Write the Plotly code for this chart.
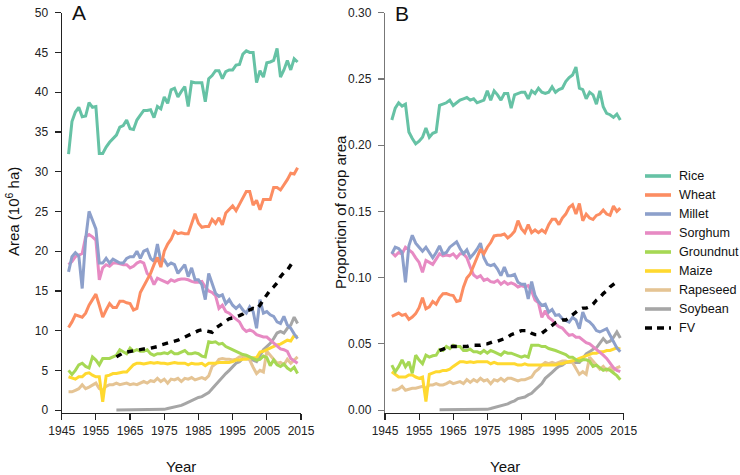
import plotly.graph_objects as go

YEARS = list(range(1947, 2015))
YEARS_SOY = list(range(1961, 2015))
YEARS_FV = list(range(1961, 2014))

# ---------- Panel A: area (10^6 ha) ----------
RICE_A = [32.2, 36.3, 37.5, 38.1, 36.9, 37.0, 38.7, 38.1, 38.2, 32.3,
          32.3, 33.1, 33.7, 34.2, 34.6, 35.6, 35.8, 36.5, 35.4, 35.3,
          36.5, 37.1, 37.7, 37.7, 37.8, 36.8, 38.2, 37.9, 39.4, 38.6,
          40.3, 40.5, 39.4, 40.1, 40.7, 38.2, 41.3, 41.2, 41.2, 41.2,
          38.8, 41.7, 42.1, 42.7, 42.7, 41.7, 42.6, 42.8, 42.8, 43.4,
          43.5, 44.8, 45.2, 45.0, 45.0, 41.2, 42.7, 41.9, 43.7, 43.8,
          44.0, 45.5, 41.9, 42.8, 44.0, 42.8, 44.2, 43.8]
WHEAT_A = [10.4, 11.1, 12.0, 11.8, 11.7, 12.2, 13.2, 13.9, 14.6, 13.2,
           11.7, 12.6, 13.4, 12.9, 12.9, 13.7, 13.7, 13.5, 13.4, 12.6,
           12.8, 14.8, 15.6, 16.4, 17.2, 18.3, 19.2, 18.0, 20.0, 20.9,
           21.5, 22.5, 22.2, 22.3, 22.2, 22.2, 23.4, 24.7, 23.5, 23.0,
           23.1, 23.1, 24.0, 23.5, 24.2, 23.3, 24.8, 25.2, 25.7, 25.1,
           26.0, 26.7, 27.5, 27.5, 25.8, 26.4, 25.2, 26.5, 26.5, 26.5,
           28.0, 28.0, 27.7, 28.3, 29.0, 29.8, 29.7, 30.5]
MILLET_A = [17.4, 19.3, 19.8, 19.4, 15.3, 21.5, 25.0, 24.0, 22.8, 18.5,
            18.5, 19.1, 18.5, 19.0, 18.7, 18.5, 18.5, 19.1, 19.3, 19.3,
            20.0, 19.1, 20.0, 20.2, 19.1, 18.7, 20.9, 18.7, 18.9, 18.2,
            18.5, 18.3, 17.2, 17.8, 18.3, 16.8, 17.9, 16.4, 16.4, 15.8,
            13.9, 17.2, 16.0, 14.7, 14.3, 14.5, 13.4, 13.9, 13.2, 12.8,
            13.2, 12.6, 12.2, 13.0, 12.4, 10.3, 13.9, 12.2, 12.4, 12.0,
            11.8, 11.1, 10.9, 11.8, 10.7, 10.3, 9.6, 9.0]
SORGHUM_A = [18.3, 18.7, 19.3, 19.5, 19.7, 21.8, 22.1, 21.8, 21.4, 16.4,
             17.9, 18.3, 18.1, 18.5, 18.5, 18.4, 18.3, 18.3, 17.9, 18.1,
             18.5, 18.7, 18.5, 17.2, 16.8, 15.8, 16.6, 16.4, 16.2, 16.0,
             16.4, 16.2, 16.4, 16.5, 16.5, 16.4, 16.2, 16.1, 16.1, 16.2,
             15.5, 15.0, 14.8, 14.4, 12.8, 13.2, 12.4, 12.2, 11.8, 11.4,
             11.1, 10.3, 9.9, 10.1, 9.9, 9.5, 9.3, 9.2, 9.2, 8.8,
             8.5, 8.0, 7.7, 7.6, 7.4, 6.5, 6.2, 5.9]
GROUNDNUT_A = [5.0, 4.5, 5.0, 5.7, 5.9, 5.5, 5.3, 6.7, 6.3, 5.7,
               6.5, 6.5, 6.5, 6.7, 6.9, 7.6, 7.4, 7.1, 7.8, 7.4,
               7.6, 7.4, 7.4, 7.6, 7.1, 6.9, 7.1, 7.1, 7.2, 7.1,
               7.4, 7.1, 7.1, 7.3, 7.5, 7.1, 7.1, 7.2, 7.1, 6.8,
               6.7, 8.6, 8.5, 8.6, 8.3, 8.4, 8.0, 7.8, 7.6, 7.4,
               7.1, 7.0, 6.9, 6.7, 6.4, 6.3, 6.4, 6.8, 6.6, 5.6,
               6.3, 5.7, 5.5, 5.8, 5.3, 5.0, 5.4, 4.6]
MAIZE_A = [4.2, 4.0, 3.9, 4.2, 4.2, 4.6, 4.7, 4.4, 4.2, 4.2,
           1.05, 4.3, 4.4, 4.6, 4.6, 4.7, 4.8, 4.8, 5.3, 5.7,
           5.9, 5.9, 5.8, 5.9, 6.0, 5.9, 6.0, 5.9, 5.9, 5.8,
           5.9, 6.0, 5.9, 5.9, 5.9, 5.7, 5.9, 5.8, 5.8, 5.9,
           5.6, 5.9, 5.9, 5.9, 6.0, 6.0, 6.0, 6.0, 6.1, 6.3,
           6.3, 6.4, 6.4, 6.6, 6.6, 6.6, 7.3, 7.4, 7.6, 7.8,
           8.1, 8.2, 8.3, 8.6, 8.8, 8.7, 9.4, 9.2]
RAPESEED_A = [2.3, 2.3, 2.5, 2.7, 3.2, 2.7, 2.9, 3.2, 3.4, 2.7,
              2.5, 3.0, 3.2, 3.2, 3.4, 3.2, 3.3, 3.4, 3.2, 3.3,
              3.2, 3.4, 3.6, 3.4, 3.7, 3.6, 4.0, 3.6, 3.9, 3.4,
              3.9, 3.8, 4.0, 3.6, 4.0, 3.9, 4.1, 3.8, 4.0, 4.1,
              3.9, 4.3, 5.5, 5.8, 6.4, 6.5, 6.4, 6.4, 6.3, 6.4,
              6.7, 6.8, 6.6, 6.3, 5.4, 4.6, 5.0, 4.8, 7.4, 6.9,
              6.4, 5.9, 6.0, 5.7, 6.4, 5.9, 6.3, 6.7]
SOYBEAN_A = [0.02, 0.02, 0.02, 0.02, 0.02, 0.02, 0.02, 0.03, 0.03, 0.03,
             0.04, 0.05, 0.06, 0.08, 0.1, 0.2, 0.3, 0.4, 0.5, 0.6,
             0.8, 1.0, 1.2, 1.5, 1.6, 1.7, 1.9, 2.2, 2.7, 3.2,
             3.6, 4.2, 4.6, 5.0, 5.5, 5.9, 6.1, 6.5, 6.5, 6.4,
             6.3, 6.1, 6.9, 7.6, 8.0, 8.4, 9.0, 9.7, 9.9, 9.7,
             10.3, 10.7, 11.7, 10.9]
FV_A = [6.7, 7.0, 7.2, 7.3, 7.4, 7.4, 7.5, 7.6, 7.7, 7.7,
        7.8, 7.8, 8.0, 8.2, 8.3, 8.4, 8.6, 8.7, 8.8, 9.0,
        9.2, 9.5, 9.7, 9.8, 10.0, 10.1, 10.0, 9.8, 9.8, 10.3,
        10.6, 10.9, 11.2, 11.5, 11.6, 11.7, 11.9, 12.1, 12.5, 12.6,
        12.8, 12.7, 13.2, 13.9, 14.5, 15.1, 15.5, 16.0, 16.8, 17.3,
        17.6, 18.3, 18.9]

# ---------- Panel B: proportion of crop area ----------
RICE_B = [0.219, 0.228, 0.232, 0.2295, 0.231, 0.210, 0.205, 0.201, 0.203, 0.206,
          0.213, 0.206, 0.209, 0.210, 0.230, 0.231, 0.232, 0.234, 0.230, 0.232,
          0.234, 0.235, 0.236, 0.234, 0.235, 0.232, 0.233, 0.234, 0.241, 0.234,
          0.241, 0.238, 0.234, 0.239, 0.239, 0.228, 0.238, 0.239, 0.240, 0.240,
          0.235, 0.241, 0.239, 0.243, 0.240, 0.239, 0.240, 0.244, 0.240, 0.242,
          0.243, 0.248, 0.251, 0.253, 0.259, 0.243, 0.242, 0.235, 0.240, 0.238,
          0.231, 0.241, 0.229, 0.224, 0.223, 0.221, 0.2235, 0.219]
WHEAT_B = [0.0708, 0.0723, 0.0733, 0.0715, 0.0723, 0.0685, 0.0703, 0.0728, 0.0773, 0.0848,
           0.0765, 0.078, 0.082, 0.080, 0.0848, 0.0878, 0.088, 0.087, 0.0865, 0.082,
           0.0828, 0.0928, 0.0998, 0.1028, 0.109, 0.115, 0.1215, 0.118, 0.123, 0.1265,
           0.1315, 0.132, 0.132, 0.133, 0.130, 0.132, 0.135, 0.143, 0.137, 0.134,
           0.140, 0.134, 0.136, 0.134, 0.136, 0.134, 0.140, 0.144, 0.144, 0.140,
           0.145, 0.148, 0.153, 0.155, 0.148, 0.156, 0.143, 0.148, 0.145, 0.144,
           0.147, 0.148, 0.151, 0.148, 0.147, 0.154, 0.150, 0.1525]
MILLET_B = [0.118, 0.123, 0.122, 0.119, 0.0965, 0.124, 0.132, 0.126, 0.123, 0.120,
            0.123, 0.119, 0.115, 0.119, 0.124, 0.118, 0.119, 0.123, 0.125, 0.127,
            0.122, 0.118, 0.121, 0.115, 0.118, 0.1215, 0.126, 0.115, 0.110, 0.109,
            0.110, 0.1065, 0.1015, 0.108, 0.1015, 0.1015, 0.1025, 0.0965, 0.095, 0.095,
            0.084, 0.097, 0.0865, 0.082, 0.079, 0.080, 0.074, 0.076, 0.0715, 0.072,
            0.069, 0.0675, 0.0665, 0.070, 0.068, 0.0615, 0.074, 0.068, 0.0665, 0.064,
            0.060, 0.059, 0.060, 0.0615, 0.0565, 0.052, 0.047, 0.044]
SORGHUM_B = [0.119, 0.1165, 0.119, 0.118, 0.123, 0.121, 0.119, 0.115, 0.1115, 0.104,
             0.113, 0.1115, 0.110, 0.114, 0.118, 0.1165, 0.117, 0.1165, 0.118, 0.115,
             0.118, 0.118, 0.115, 0.108, 0.102, 0.100, 0.1015, 0.098, 0.099, 0.097,
             0.0965, 0.098, 0.095, 0.097, 0.095, 0.096, 0.095, 0.093, 0.094, 0.093,
             0.094, 0.090, 0.083, 0.081, 0.070, 0.075, 0.070, 0.068, 0.065, 0.063,
             0.062, 0.059, 0.0565, 0.057, 0.055, 0.055, 0.053, 0.051, 0.050, 0.048,
             0.046, 0.044, 0.0415, 0.039, 0.035, 0.032, 0.030, 0.029]
GROUNDNUT_B = [0.034, 0.029, 0.0328, 0.038, 0.0328, 0.0365, 0.0278, 0.0415, 0.0378, 0.035,
               0.0415, 0.040, 0.041, 0.0415, 0.0458, 0.045, 0.048, 0.0465, 0.049, 0.048,
               0.048, 0.045, 0.045, 0.046, 0.044, 0.044, 0.043, 0.045, 0.043, 0.045,
               0.044, 0.043, 0.0415, 0.044, 0.043, 0.043, 0.042, 0.041, 0.040, 0.041,
               0.040, 0.049, 0.049, 0.049, 0.048, 0.048, 0.0465, 0.046, 0.045, 0.044,
               0.043, 0.042, 0.040, 0.040, 0.038, 0.037, 0.038, 0.038, 0.037, 0.033,
               0.034, 0.032, 0.030, 0.031, 0.030, 0.028, 0.026, 0.023]
MAIZE_B = [0.029, 0.027, 0.025, 0.025, 0.025, 0.0265, 0.0265, 0.025, 0.024, 0.025,
           0.0065, 0.027, 0.028, 0.029, 0.029, 0.030, 0.030, 0.031, 0.033, 0.035,
           0.0365, 0.0365, 0.036, 0.0365, 0.036, 0.0365, 0.0365, 0.036, 0.0365, 0.035,
           0.036, 0.035, 0.035, 0.035, 0.035, 0.035, 0.035, 0.034, 0.034, 0.035,
           0.034, 0.034, 0.034, 0.034, 0.034, 0.034, 0.034, 0.034, 0.034, 0.035,
           0.035, 0.036, 0.0365, 0.037, 0.038, 0.039, 0.040, 0.041, 0.042, 0.043,
           0.043, 0.044, 0.044, 0.045, 0.045, 0.046, 0.047, 0.046]
RAPESEED_B = [0.0153, 0.015, 0.016, 0.018, 0.015, 0.016, 0.0165, 0.0165, 0.017, 0.018,
              0.0165, 0.019, 0.019, 0.020, 0.019, 0.019, 0.020, 0.0215, 0.020, 0.021,
              0.0215, 0.020, 0.023, 0.021, 0.023, 0.0215, 0.024, 0.022, 0.023, 0.020,
              0.023, 0.022, 0.024, 0.022, 0.024, 0.024, 0.023, 0.022, 0.023, 0.023,
              0.024, 0.025, 0.029, 0.031, 0.034, 0.036, 0.035, 0.036, 0.035, 0.036,
              0.037, 0.037, 0.036, 0.036, 0.031, 0.027, 0.029, 0.027, 0.040, 0.037,
              0.034, 0.031, 0.033, 0.030, 0.032, 0.030, 0.032, 0.033]
SOYBEAN_B = [0.0002, 0.0002, 0.0002, 0.0002, 0.0002, 0.0002, 0.0002, 0.0002, 0.0002, 0.0002,
             0.0003, 0.0003, 0.0004, 0.0005, 0.0006, 0.0012, 0.0018, 0.0024, 0.003, 0.0036,
             0.0047, 0.006, 0.007, 0.0087, 0.0093, 0.0099, 0.0115, 0.0127, 0.0153, 0.018,
             0.020, 0.024, 0.026, 0.0285, 0.031, 0.033, 0.034, 0.036, 0.036, 0.036,
             0.036, 0.036, 0.039, 0.0425, 0.044, 0.046, 0.047, 0.051, 0.054, 0.051,
             0.052, 0.055, 0.059, 0.0545]
FV_B = [0.045, 0.046, 0.047, 0.048, 0.048, 0.048, 0.048, 0.048, 0.048, 0.049,
        0.049, 0.049, 0.049, 0.050, 0.050, 0.051, 0.052, 0.052, 0.053, 0.054,
        0.055, 0.057, 0.058, 0.059, 0.060, 0.060, 0.060, 0.058, 0.057, 0.057,
        0.058, 0.060, 0.062, 0.064, 0.066, 0.067, 0.068, 0.068, 0.070, 0.072,
        0.074, 0.076, 0.077, 0.077, 0.078, 0.080, 0.083, 0.085, 0.088, 0.090,
        0.093, 0.095, 0.097]

NAMES = ["Rice", "Wheat", "Millet", "Sorghum", "Groundnut", "Maize", "Rapeseed", "Soybean", "FV"]
COLORS = ["#66c2a5", "#fc8d62", "#8da0cb", "#e78ac3", "#a6d854", "#ffd92f", "#e5c494", "#a6a6a6", "#000000"]
X_TICKS = [1945, 1955, 1965, 1975, 1985, 1995, 2005, 2015]
Y_TICKS_A = [0, 5, 10, 15, 20, 25, 30, 35, 40, 45, 50]
Y_TICKS_B = [0.00, 0.05, 0.10, 0.15, 0.20, 0.25, 0.30]

SERIES_A = [RICE_A, WHEAT_A, MILLET_A, SORGHUM_A, GROUNDNUT_A, MAIZE_A, RAPESEED_A, SOYBEAN_A, FV_A]
SERIES_B = [RICE_B, WHEAT_B, MILLET_B, SORGHUM_B, GROUNDNUT_B, MAIZE_B, RAPESEED_B, SOYBEAN_B, FV_B]

W, H = 740, 475
FONT = "Liberation Sans, Arial, sans-serif"
FV_DASH = "6px,6px"


def xs_for(name):
    if name == "Soybean":
        return YEARS_SOY
    if name == "FV":
        return YEARS_FV
    return YEARS


def px_x(p):
    return p / W


def px_y(p):
    return 1 - p / H


fig = go.Figure()
order = [7, 6, 5, 4, 3, 2, 1, 0, 8]
for series, xa, ya in [(SERIES_A, "x", "y"), (SERIES_B, "x2", "y2")]:
    for i in order:
        name = NAMES[i]
        is_fv = name == "FV"
        fig.add_trace(go.Scatter(
            x=xs_for(name), y=series[i], mode="lines", name=name,
            xaxis=xa, yaxis=ya,
            line=dict(color=COLORS[i], width=3.4 if is_fv else 3,
                      dash=FV_DASH if is_fv else "solid"),
            showlegend=False, hoverinfo="skip",
        ))

axis_common = dict(showgrid=False, zeroline=False, showline=True, ticks="outside",
                   ticklen=6, tickwidth=1.2, linewidth=1.2, automargin=False,
                   tickfont=dict(family=FONT, size=12, color="#222"))

fig.update_layout(
    width=W, height=H,
    margin=dict(l=0, r=0, t=0, b=0, autoexpand=False),
    paper_bgcolor="white", plot_bgcolor="white",
    font=dict(family=FONT, color="#222"),
    showlegend=False,
    xaxis=dict(domain=[px_x(61.7), px_x(301)], range=[1945, 2015], tickvals=X_TICKS,
               anchor="y", linecolor="#222", tickcolor="#222", **axis_common),
    yaxis=dict(domain=[px_y(413.0), px_y(12.7)], range=[-0.36, 50], tickvals=Y_TICKS_A,
               anchor="x", linecolor="#222", tickcolor="#222", ticklabelstandoff=4,
               **axis_common),
    xaxis2=dict(domain=[px_x(385), px_x(623.7)], range=[1945, 2015], tickvals=X_TICKS,
                anchor="y2", linecolor="#222", tickcolor="#222", **axis_common),
    yaxis2=dict(domain=[px_y(413.0), px_y(12.7)], range=[-0.00216, 0.30], tickvals=Y_TICKS_B,
                tickformat=".2f", anchor="x2", linecolor="#777", tickcolor="#777",
                ticklabelstandoff=4, **axis_common),
)

# legend drawn as keys + labels at the right side
LEG_TOP, LEG_STEP = 176, 19
shapes = []
ann = []
for i, name in enumerate(NAMES):
    yy = px_y(LEG_TOP + LEG_STEP * i)
    shapes.append(dict(type="line", xref="paper", yref="paper",
                       x0=px_x(645), x1=px_x(671), y0=yy, y1=yy,
                       line=dict(color=COLORS[i], width=3.6,
                                 dash="7px,5px" if name == "FV" else "solid")))
    ann.append(dict(text=name, x=px_x(678), y=yy, xanchor="left", yanchor="middle",
                    font=dict(size=12.6), borderpad=0))

ann += [
    dict(text="Area (10<sup>6</sup> ha)", x=px_x(12), y=px_y(212), textangle=-90,
         font=dict(size=15)),
    dict(text="Proportion of crop area", x=px_x(340), y=px_y(212), textangle=-90,
         font=dict(size=15)),
    dict(text="Year", x=px_x(181), y=px_y(466), font=dict(size=15)),
    dict(text="Year", x=px_x(505), y=px_y(466), font=dict(size=15)),
    dict(text="A", x=px_x(79), y=px_y(12), font=dict(size=21)),
    dict(text="B", x=px_x(402), y=px_y(13), font=dict(size=21)),
]
for a in ann:
    a.update(xref="paper", yref="paper", showarrow=False)
    a.setdefault("xanchor", "center")
    a.setdefault("yanchor", "middle")
    a["font"].update(family=FONT, color="#111")
fig.update_layout(annotations=ann, shapes=shapes)

fig.write_html(
    "out.html",
    config={"displayModeBar": False, "staticPlot": True},
    post_script="document.body.style.margin='0px';document.body.style.padding='0px';"
                "document.documentElement.style.overflow='hidden';",
)
